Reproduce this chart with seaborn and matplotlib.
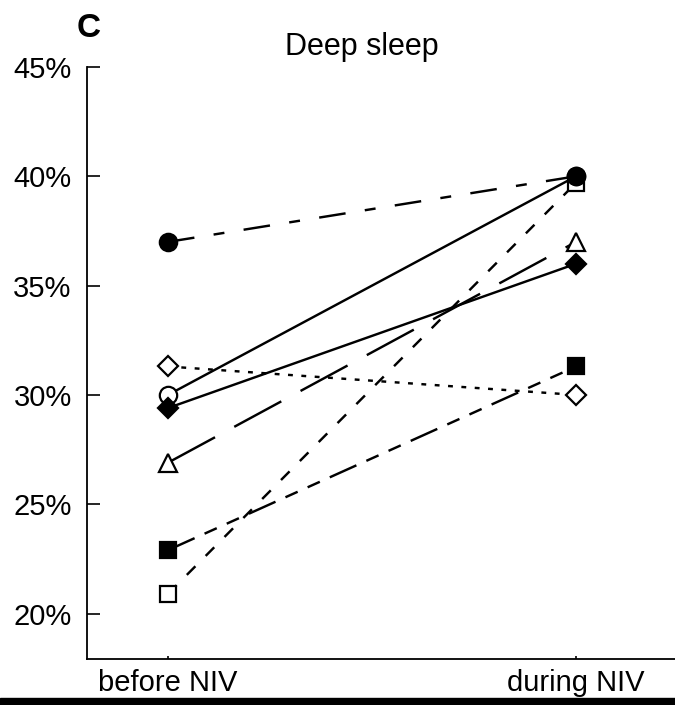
import matplotlib
matplotlib.use("Agg")
import matplotlib.pyplot as plt
import numpy as np
import pandas as pd
import seaborn as sns
from matplotlib.patches import Rectangle

# ---- data ----
conditions = ["before NIV", "during NIV"]
subjects = ["open square", "open circle", "filled diamond", "open diamond",
            "open triangle", "filled square", "filled circle"]
before_niv = [20.9, 30.0, 29.4, 31.3, 26.9, 22.9, 37.0]
during_niv = [39.7, 40.0, 36.0, 30.0, 37.0, 31.3, 40.0]
ytick_values = [20, 25, 30, 35, 40, 45]
ytick_labels = ["20%", "25%", "30%", "35%", "40%", "45%"]
title = "Deep sleep"
panel_label = "C"

# ---- styles ----
markers = {"open square": "s", "open circle": "o", "filled diamond": "D",
           "open diamond": "D", "open triangle": "^", "filled square": "s",
           "filled circle": "o"}
faces = {"open square": "white", "open circle": "white", "filled diamond": "black",
         "open diamond": "white", "open triangle": "white", "filled square": "black",
         "filled circle": "black"}
msizes = {"open square": 12, "open circle": 12.5, "filled diamond": 10,
          "open diamond": 10, "open triangle": 13, "filled square": 12,
          "filled circle": 12.5}
linestyles = {"open square": (0, (5, 6)),
              "open circle": "-",
              "filled diamond": "-",
              "open diamond": (0, (2, 3.5)),
              "open triangle": (0, (22, 9)),
              "filled square": (0, (12, 4.5, 5.5, 4.5, 5.5, 4.5)),
              "filled circle": (0, (11, 8, 4.5, 8))}

rows = []
for s, b, d in zip(subjects, before_niv, during_niv):
    rows.append({"subject": s, "condition": conditions[0], "value": b})
    rows.append({"subject": s, "condition": conditions[1], "value": d})
df = pd.DataFrame(rows)

sns.set_theme(style="ticks")
plt.rcParams["font.family"] = ["Liberation Sans", "DejaVu Sans"]
plt.rcParams["text.color"] = "black"

W, H = 675, 705
fig = plt.figure(figsize=(W / 100, H / 100), dpi=100)
ax = fig.add_axes([87 / W, 1 - 659 / H, (W - 87) / W, (659 - 67) / H])

for s in subjects:
    sub = df[df["subject"] == s]
    sns.lineplot(data=sub, x="condition", y="value", ax=ax, color="black",
                 linewidth=1.75, linestyle=linestyles[s], marker=markers[s],
                 markersize=msizes[s], markerfacecolor=faces[s],
                 markeredgecolor="black", markeredgewidth=1.6,
                 errorbar=None, sort=False, legend=False)

ax.set_xlim(-0.1985, 1.2426)
ax.set_ylim(17.92, 45)
ax.set_yticks(ytick_values, ytick_labels)
ax.set_xticks([0, 1], conditions)
ax.set_xlabel("")
ax.set_ylabel("")
for side in ["top", "right"]:
    ax.spines[side].set_visible(False)
for side in ["left", "bottom"]:
    ax.spines[side].set_linewidth(1.3)
    ax.spines[side].set_color("black")
ax.tick_params(axis="y", direction="in", length=9, width=1.2, pad=11,
               labelsize=21, colors="black", labelcolor="black")
ax.tick_params(axis="x", direction="in", length=2.5, width=1.2, pad=7,
               labelsize=21, colors="black", labelcolor="black")
ax.set_title(title, x=(362 - 87) / (W - 87), pad=9, fontsize=22, color="black")
fig.text(77 / W, 1 - 37 / H, panel_label, fontsize=24, fontweight="bold",
         ha="left", va="baseline", color="black")
fig.add_artist(Rectangle((0, 0), 1, 7 / H, transform=fig.transFigure,
                         color="black", zorder=10))

fig.savefig("out.png", dpi=100)
